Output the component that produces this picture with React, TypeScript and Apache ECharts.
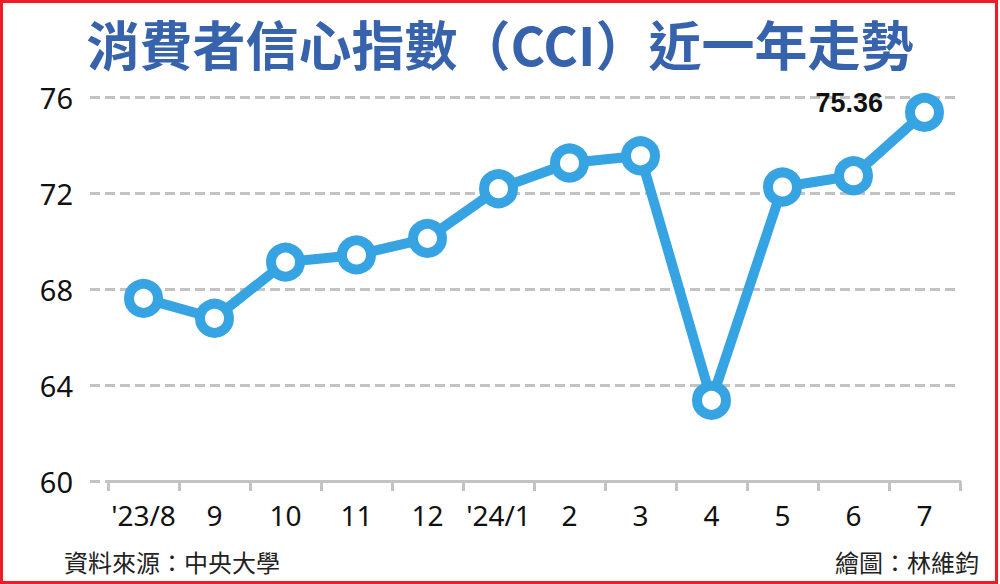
import React, { useEffect, useRef } from 'react';
import * as echarts from 'echarts';

const categories = ["'23/8", '9', '10', '11', '12', "'24/1", '2', '3', '4', '5', '6', '7'];
const cciValues = [67.61, 66.78, 69.12, 69.42, 70.11, 72.18, 73.25, 73.55, 63.36, 72.25, 72.72, 75.36];
const yTicks = [60, 64, 68, 72, 76];
const titleText = '消費者信心指數（CCI）近一年走勢';
const sourceText = '資料來源：中央大學';
const creditText = '繪圖：林維鈞';

const BLUE = '#36a3e3';
const GRID_GRAY = '#c3c3c3';
const CJK = '"Noto Sans CJK TC", "Noto Sans CJK SC", sans-serif';
const NUM = '"Noto Sans", "DejaVu Sans", sans-serif';

export default function App() {
  const ref = useRef<HTMLDivElement>(null);
  useEffect(() => {
    const chart = echarts.init(ref.current!, null, { renderer: 'svg' });
    const yMin = yTicks[0];
    const yMax = yTicks[yTicks.length - 1];
    const yStep = yTicks[1] - yTicks[0];
    const last = cciValues.length - 1;
    const seriesData = cciValues.map((v, i) =>
      i === last
        ? {
            value: v,
            label: {
              show: true,
              position: 'left',
              distance: 22,
              offset: [0, -9],
              formatter: '{c}',
              fontSize: 27,
              fontWeight: 'bold',
              color: '#111',
              fontFamily: '"Liberation Sans", Arial, sans-serif',
            },
          }
        : v
    );
    chart.setOption({
      animation: false,
      backgroundColor: '#ffffff',
      title: [
        {
          text: titleText,
          left: 'center',
          top: 11,
          textStyle: { fontSize: 53, fontWeight: 'bold', color: '#3762ac', fontFamily: CJK },
        },
        {
          text: sourceText,
          left: 59,
          top: 544,
          textStyle: { fontSize: 24, fontWeight: 'normal', color: '#222', fontFamily: CJK },
        },
        {
          text: creditText,
          right: 16,
          top: 544,
          textStyle: { fontSize: 24, fontWeight: 'normal', color: '#222', fontFamily: CJK },
        },
      ],
      grid: [
        { left: 90, right: 40, top: 97, bottom: 103 },
        { left: 108, right: 40, top: 97, bottom: 103 },
      ],
      xAxis: [
        { gridIndex: 0, type: 'value', show: false, min: 0, max: 1 },
        {
          gridIndex: 1,
          type: 'category',
          data: categories,
          boundaryGap: true,
          axisLine: { show: true, lineStyle: { color: GRID_GRAY, width: 3 } },
          axisTick: { show: true, interval: 0, length: 10, lineStyle: { color: GRID_GRAY, width: 3 } },
          axisLabel: { interval: 0, fontSize: 28, color: '#111', margin: 20, fontFamily: NUM },
        },
      ],
      yAxis: [
        {
          gridIndex: 0,
          type: 'value',
          min: yMin,
          max: yMax,
          interval: yStep,
          axisLine: { show: false },
          axisTick: { show: false },
          axisLabel: { fontSize: 29, color: '#111', margin: 17, fontFamily: NUM },
          splitLine: { show: true, lineStyle: { color: GRID_GRAY, width: 3, type: [10, 5] } },
        },
        { gridIndex: 1, type: 'value', min: yMin, max: yMax, interval: yStep, show: false, splitLine: { show: false } },
      ],
      series: [
        {
          type: 'line',
          xAxisIndex: 1,
          yAxisIndex: 1,
          data: seriesData,
          symbol: 'circle',
          symbolSize: 29,
          showAllSymbol: true,
          lineStyle: { color: BLUE, width: 10 },
          itemStyle: { color: '#ffffff', borderColor: BLUE, borderWidth: 10 },
          z: 5,
        },
      ],
    });
    return () => chart.dispose();
  }, []);
  return (
    <div style={{ position: 'absolute', left: 0, top: 0, width: 1000, height: 584, background: '#fff' }}>
      <div ref={ref} style={{ position: 'absolute', left: 0, top: 0, width: 1000, height: 584 }} />
      <div
        style={{
          position: 'absolute',
          left: 0,
          top: 0,
          width: 998,
          height: 584,
          border: '3px solid #ee1c24',
          boxSizing: 'border-box',
          pointerEvents: 'none',
        }}
      />
    </div>
  );
}
